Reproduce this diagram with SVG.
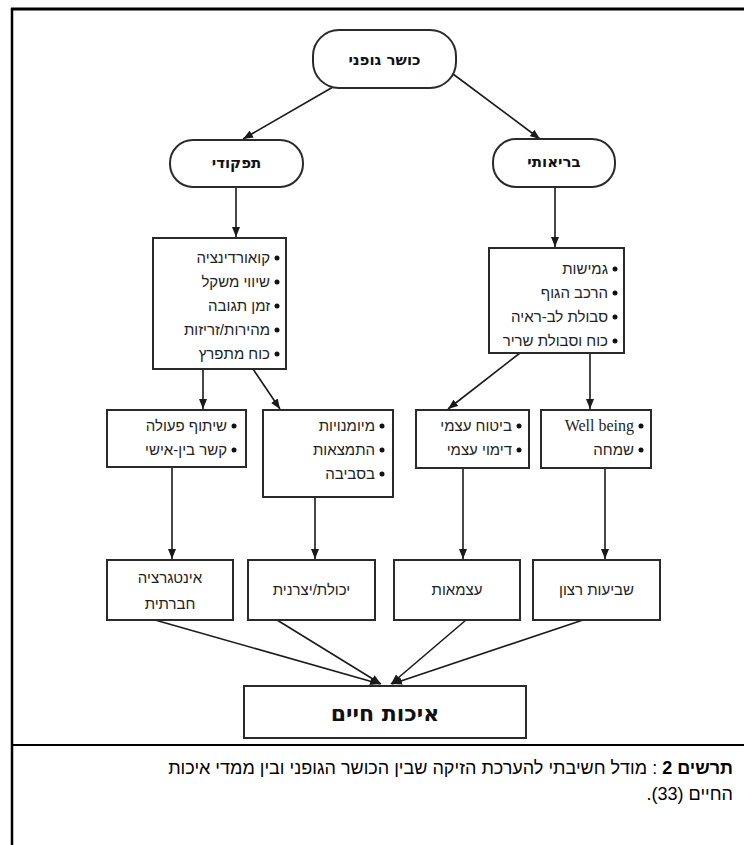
<svg xmlns="http://www.w3.org/2000/svg" width="744" height="845" viewBox="0 0 744 845">
<defs>
<marker id="ah" viewBox="0 0 10 8" refX="10" refY="4" markerWidth="10" markerHeight="8" markerUnits="userSpaceOnUse" orient="auto">
<path d="M0,0 L10,4 L0,8 Z" fill="#1a1a1a"/>
</marker>
</defs>
<style>
.frame{stroke:#000;fill:none}
.node{fill:#fff;stroke:#2a2a2a;stroke-width:2}
.conn line{stroke:#1a1a1a;stroke-width:1.6;marker-end:url(#ah)}
.t{font-family:"Liberation Sans","DejaVu Sans",sans-serif;font-size:15px;fill:#222;direction:rtl}
.b{font-family:"DejaVu Sans","Liberation Sans",sans-serif;font-weight:bold;font-size:15px;fill:#111;text-anchor:middle}
.en{font-family:"Liberation Serif",serif;font-size:16px;fill:#222}
.cap{font-family:"Liberation Sans","DejaVu Sans",sans-serif;font-size:18px;fill:#000;direction:rtl;text-anchor:start}
.dot{fill:#111}
</style>
<rect width="744" height="845" fill="#fff"/>
<g id="frame">
<line class="frame" x1="11" y1="9" x2="744" y2="9" stroke-width="3"/>
<line class="frame" x1="12" y1="8" x2="12" y2="845" stroke-width="2.5"/>
<line class="frame" x1="12" y1="745" x2="744" y2="745" stroke-width="2"/>
</g>
<g class="conn" id="connectors">
<line x1="333" y1="87" x2="243" y2="139"/>
<line x1="453" y1="74" x2="540" y2="139"/>
<line x1="236" y1="188" x2="236" y2="237"/>
<line x1="555" y1="188" x2="555" y2="247"/>
<line x1="203" y1="369" x2="203" y2="409"/>
<line x1="253" y1="369" x2="280" y2="409"/>
<line x1="520" y1="353" x2="448" y2="409"/>
<line x1="590" y1="353" x2="590" y2="409"/>
<line x1="172" y1="467" x2="172" y2="559"/>
<line x1="315" y1="497" x2="315" y2="559"/>
<line x1="463" y1="468" x2="463" y2="559"/>
<line x1="605" y1="468" x2="605" y2="559"/>
<line x1="155" y1="620" x2="380" y2="684"/>
<line x1="277" y1="620" x2="381" y2="684"/>
<line x1="466" y1="620" x2="391" y2="684"/>
<line x1="583" y1="620" x2="392" y2="684"/>
</g>
<g id="n-kosher">
<rect class="node" x="313" y="30" width="143" height="58" rx="26"/>
<text class="b" x="384.5" y="65">כושר גופני</text>
</g>
<g id="n-tifkudi">
<rect class="node" x="170" y="140" width="133" height="47" rx="23"/>
<text class="b" x="236.5" y="168">תפקודי</text>
</g>
<g id="n-briuti">
<rect class="node" x="493" y="139" width="122" height="48" rx="23"/>
<text class="b" x="554" y="167">בריאותי</text>
</g>
<g id="n-func-list">
<rect class="node" x="153" y="238" width="133" height="131"/>
<circle class="dot" cx="277" cy="258" r="2.5"/><text class="t" x="270" y="263">קואורדינציה</text>
<circle class="dot" cx="277" cy="282" r="2.5"/><text class="t" x="270" y="287">שיווי משקל</text>
<circle class="dot" cx="277" cy="306" r="2.5"/><text class="t" x="270" y="311">זמן תגובה</text>
<circle class="dot" cx="277" cy="330" r="2.5"/><text class="t" x="270" y="335">מהירות/זריזות</text>
<circle class="dot" cx="277" cy="354" r="2.5"/><text class="t" x="270" y="359">כוח מתפרץ</text>
</g>
<g id="n-health-list">
<rect class="node" x="489" y="248" width="135" height="105"/>
<circle class="dot" cx="615" cy="269" r="2.5"/><text class="t" x="608" y="274">גמישות</text>
<circle class="dot" cx="615" cy="293" r="2.5"/><text class="t" x="608" y="298">הרכב הגוף</text>
<circle class="dot" cx="615" cy="317" r="2.5"/><text class="t" x="608" y="322">סבולת לב-ראיה</text>
<circle class="dot" cx="615" cy="341" r="2.5"/><text class="t" x="608" y="346">כוח וסבולת שריר</text>
</g>
<g id="n-social">
<rect class="node" x="107" y="410" width="139" height="57"/>
<circle class="dot" cx="234" cy="426" r="2.5"/><text class="t" x="227" y="431">שיתוף פעולה</text>
<circle class="dot" cx="234" cy="450" r="2.5"/><text class="t" x="227" y="455">קשר בין-אישי</text>
</g>
<g id="n-skills">
<rect class="node" x="263" y="410" width="130" height="87"/>
<circle class="dot" cx="382" cy="426" r="2.5"/><text class="t" x="375" y="431">מיומנויות</text>
<circle class="dot" cx="382" cy="450" r="2.5"/><text class="t" x="375" y="455">התמצאות</text>
<circle class="dot" cx="382" cy="474" r="2.5"/><text class="t" x="375" y="479">בסביבה</text>
</g>
<g id="n-self">
<rect class="node" x="416" y="410" width="113" height="58"/>
<circle class="dot" cx="519" cy="426" r="2.5"/><text class="t" x="512" y="431">ביטוח עצמי</text>
<circle class="dot" cx="519" cy="450" r="2.5"/><text class="t" x="512" y="455">דימוי עצמי</text>
</g>
<g id="n-wellbeing">
<rect class="node" x="541" y="410" width="110" height="58"/>
<circle class="dot" cx="641" cy="426" r="2.5"/><text class="en" x="634" y="431" text-anchor="end">Well being</text>
<circle class="dot" cx="641" cy="450" r="2.5"/><text class="t" x="634" y="455">שמחה</text>
</g>
<g id="n-integration">
<rect class="node" x="107" y="560" width="126" height="60"/>
<text class="t" x="170" y="583" text-anchor="middle">אינטגרציה</text>
<text class="t" x="170" y="609" text-anchor="middle">חברתית</text>
</g>
<g id="n-productivity">
<rect class="node" x="248" y="560" width="127" height="60"/>
<text class="t" x="311.5" y="595" text-anchor="middle">יכולת/יצרנית</text>
</g>
<g id="n-independence">
<rect class="node" x="394" y="560" width="126" height="60"/>
<text class="t" x="457" y="595" text-anchor="middle">עצמאות</text>
</g>
<g id="n-satisfaction">
<rect class="node" x="533" y="560" width="127" height="60"/>
<text class="t" x="596.5" y="595" text-anchor="middle">שביעות רצון</text>
</g>
<g id="n-quality">
<rect class="node" x="244" y="686" width="282" height="52"/>
<text class="b" x="385" y="721" style="font-size:22px">איכות חיים</text>
</g>
<g id="caption">
<text class="cap" x="733" y="774"><tspan font-weight="bold">תרשים 2</tspan> : מודל חשיבתי להערכת הזיקה שבין הכושר הגופני ובין ממדי איכות</text>
<text class="cap" x="733" y="800">החיים (33).</text>
</g>
</svg>
